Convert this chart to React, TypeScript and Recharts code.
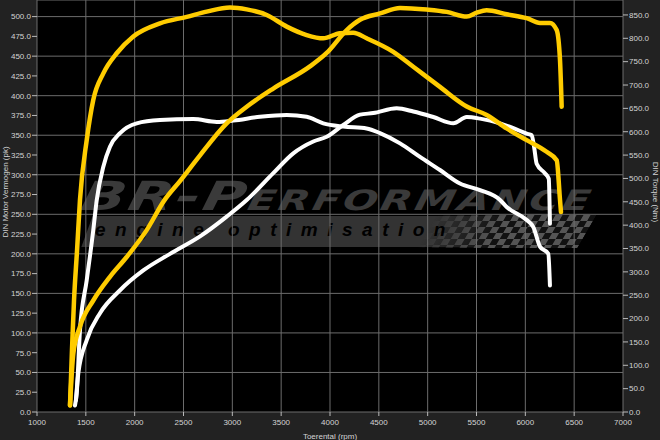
import React from "react";
import { CartesianGrid, Label, Line, LineChart, XAxis, YAxis } from "recharts";

// tuned torque (Nm, right axis)
const tunedTorqueRpm = [1338, 1358, 1379, 1410, 1440, 1509, 1576, 1679, 1816, 1986, 2259, 2533, 2737, 2976, 3147, 3352, 3557, 3761, 3931, 4102, 4238, 4375, 4648, 4853, 5126, 5400, 5604, 5809, 6014, 6218, 6321, 6355, 6365];
const tunedTorqueNm = [14, 132, 239, 346, 454, 582, 668, 725, 768, 804, 832, 846, 857, 866, 862, 850, 825, 807, 800, 811, 812, 800, 771, 739, 696, 654, 636, 607, 582, 557, 539, 454, 428];

// tuned power (pk, left axis)
const tunedPowerRpm = [1338, 1372, 1440, 1576, 1747, 1918, 2123, 2300, 2470, 2659, 2942, 3147, 3419, 3795, 3966, 4171, 4307, 4512, 4717, 4990, 5195, 5400, 5502, 5604, 5809, 6014, 6150, 6252, 6321, 6355, 6372];
const tunedPowerPk = [8.5, 74, 108, 141, 171, 196, 230, 267, 293, 323, 365, 386, 409, 437, 454, 483, 496, 504, 511, 509, 506, 500, 505, 508, 503, 498, 492, 492, 483, 445, 386];

// stock torque (Nm, right axis)
const stockTorqueRpm = [1389, 1406, 1440, 1509, 1576, 1611, 1679, 1747, 1850, 2021, 2259, 2600, 2840, 3010, 3283, 3557, 3761, 3931, 4136, 4375, 4512, 4717, 4921, 5126, 5331, 5536, 5741, 5809, 6014, 6082, 6150, 6235, 6252];
const stockTorqueNm = [14, 39, 175, 282, 389, 453, 525, 568, 597, 618, 625, 627, 621, 624, 632, 636, 632, 618, 611, 607, 597, 575, 546, 518, 489, 475, 454, 439, 411, 396, 354, 339, 271];

// stock power (pk, left axis)
const stockPowerRpm = [1399, 1423, 1509, 1645, 1850, 2088, 2362, 2669, 2942, 3147, 3419, 3624, 3829, 3966, 4136, 4307, 4443, 4683, 4853, 5058, 5263, 5400, 5536, 5741, 5877, 6014, 6065, 6090, 6116, 6200, 6240, 6252];
const stockPowerPk = [15, 49, 91, 125, 154, 179, 200, 222, 247, 268, 302, 327, 342, 348, 363, 376, 378, 384, 380, 373, 365, 373, 371, 365, 359, 352, 350, 335, 314, 302, 295, 238];

const rpmTicks = [1000, 1500, 2000, 2500, 3000, 3500, 4000, 4500, 5000, 5500, 6000, 6500, 7000];
const pkTicks = [0, 25, 50, 75, 100, 125, 150, 175, 200, 225, 250, 275, 300, 325, 350, 375, 400, 425, 450, 475, 500];
const nmTicks = [0, 50, 100, 150, 200, 250, 300, 350, 400, 450, 500, 550, 600, 650, 700, 750, 800, 850];

const zip = (rpm: number[], v: number[]) => rpm.map((r, i) => ({ rpm: r, v: v[i] }));

const tunedTorque = zip(tunedTorqueRpm, tunedTorqueNm);
const tunedPower = zip(tunedPowerRpm, tunedPowerPk);
const stockTorque = zip(stockTorqueRpm, stockTorqueNm);
const stockPower = zip(stockPowerRpm, stockPowerPk);

const YELLOW = "#ffcc00";
const WHITE = "#ffffff";
const tickStyle = { fill: "#d4d4d4", fontSize: 8 };
const fmt = (v: number) => v.toFixed(1);

function Watermark() {
  return (
    <div style={{ position: "absolute", left: 37, top: 0, width: 586, height: 412, background: "#000", overflow: "hidden" }}>
      <div
        style={{
          position: "absolute",
          left: 50,
          top: 173,
          fontFamily: "'DejaVu Sans', sans-serif",
          fontWeight: 900,
          fontStyle: "italic",
          fontVariant: "small-caps",
          fontSize: 40,
          letterSpacing: 2,
          color: "#3a3a3a",
          transform: "skewX(-12deg) scaleX(1.45)",
          transformOrigin: "left top",
          whiteSpace: "nowrap",
        }}
      >
        BR-Performance
      </div>
      <div
        style={{
          position: "absolute",
          left: 50,
          top: 216,
          width: 480,
          height: 31,
          background: "#333333",
          transform: "skewX(-20deg)",
        }}
      />
      <div
        style={{
          position: "absolute",
          left: 390,
          top: 215,
          width: 160,
          height: 33,
          backgroundImage: "repeating-conic-gradient(#555555 0% 25%, #111111 0% 50%)",
          backgroundSize: "14px 12px",
          transform: "skewX(-30deg)",
          WebkitMaskImage: "linear-gradient(90deg, transparent 0%, #000 45%)",
          maskImage: "linear-gradient(90deg, transparent 0%, #000 45%)",
        }}
      />
      <div
        style={{
          position: "absolute",
          left: 58,
          top: 219,
          fontFamily: "'Liberation Sans', Arial, sans-serif",
          fontWeight: 700,
          fontStyle: "italic",
          fontSize: 19,
          letterSpacing: 9.5,
          color: "#000000",
          whiteSpace: "nowrap",
        }}
      >
        engine optimisation
      </div>
    </div>
  );
}

export default function App() {
  return (
    <div
      style={{
        position: "absolute",
        left: 0,
        top: 0,
        width: 660,
        height: 440,
        background: "#222222",
        fontFamily: "'Liberation Sans', Arial, sans-serif",
      }}
    >
      <Watermark />
      <div style={{ position: "absolute", left: 0, top: 0 }}>
        <LineChart width={660} height={440} margin={{ top: 0, right: 0, bottom: 0, left: 0 }}>
          <CartesianGrid yAxisId="left" stroke="#6c6c6c" strokeWidth={1} fill="none" />
          <XAxis
            type="number"
            dataKey="rpm"
            domain={[1000, 7000]}
            ticks={rpmTicks}
            allowDuplicatedCategory={false}
            height={28}
            tick={tickStyle}
            tickSize={4}
            tickMargin={3}
            axisLine={false}
            tickLine={{ stroke: "#bbbbbb" }}
          >
            <Label value="Toerental (rpm)" position="insideBottom" offset={1} fill="#d4d4d4" fontSize={8} />
          </XAxis>
          <YAxis
            yAxisId="left"
            type="number"
            domain={[0, 521]}
            ticks={pkTicks}
            tickFormatter={fmt}
            width={37}
            tick={tickStyle}
            tickSize={5}
            tickMargin={1}
            axisLine={false}
            tickLine={{ stroke: "#bbbbbb" }}
          >
            <Label value="DIN Motor Vermogen (pk)" angle={-90} position="center" dx={-13} dy={-14} fill="#d4d4d4" fontSize={8} />
          </YAxis>
          <YAxis
            yAxisId="right"
            orientation="right"
            type="number"
            domain={[0, 882]}
            ticks={nmTicks}
            tickFormatter={fmt}
            width={37}
            tick={tickStyle}
            tickSize={5}
            tickMargin={1}
            axisLine={false}
            tickLine={{ stroke: "#bbbbbb" }}
          >
            <Label value="DIN Torque (Nm)" angle={90} position="center" dx={14} dy={-14} fill="#d4d4d4" fontSize={8} />
          </YAxis>
          <Line data={stockTorque} yAxisId="right" dataKey="v" type="monotone" stroke={WHITE} strokeWidth={4} dot={false} strokeLinecap="round" strokeLinejoin="round" isAnimationActive={false} />
          <Line data={stockPower} yAxisId="left" dataKey="v" type="monotone" stroke={WHITE} strokeWidth={4} dot={false} strokeLinecap="round" strokeLinejoin="round" isAnimationActive={false} />
          <Line data={tunedTorque} yAxisId="right" dataKey="v" type="monotone" stroke={YELLOW} strokeWidth={4.5} dot={false} strokeLinecap="round" strokeLinejoin="round" isAnimationActive={false} />
          <Line data={tunedPower} yAxisId="left" dataKey="v" type="monotone" stroke={YELLOW} strokeWidth={4.5} dot={false} strokeLinecap="round" strokeLinejoin="round" isAnimationActive={false} />
        </LineChart>
      </div>
    </div>
  );
}
